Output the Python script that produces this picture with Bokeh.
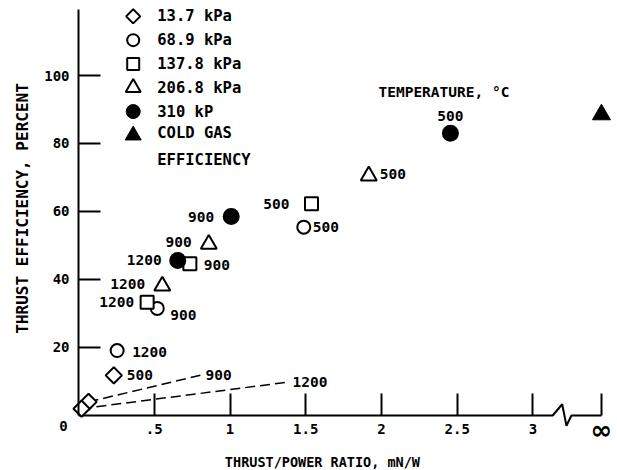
import numpy as np
from bokeh.plotting import figure
from bokeh.models import Range1d, FixedTicker, ColumnDataSource, LinearAxis
from bokeh.core.properties import value
from bokeh.embed import file_html
from bokeh.resources import INLINE

# ---------------- data ----------------
temps_c = ["500", "900", "1200"]            # temperature of each point, deg C
series_names = ["13.7 kPa", "68.9 kPa", "137.8 kPa", "206.8 kPa", "310 kP"]
cold_gas_name = "COLD GAS\nEFFICIENCY"

ratio_13_7 = [0.233, 0.066, 0.020]
eff_13_7 = [11.8, 4.0, 2.0]
ratio_68_9 = [1.487, 0.520, 0.255]
eff_68_9 = [55.4, 31.5, 19.1]
ratio_137_8 = [1.538, 0.735, 0.453]
eff_137_8 = [62.3, 44.6, 33.3]
ratio_206_8 = [1.916, 0.860, 0.553]
eff_206_8 = [70.5, 50.4, 38.1]
ratio_310 = [2.455, 1.008, 0.655]
eff_310 = [83.0, 58.5, 45.6]
cold_gas_eff = [88.5]

x_ticks = [0.5, 1.0, 1.5, 2.0, 2.5, 3.0]
x_tick_labels = [".5", "1", "1.5", "2", "2.5", "3"]
y_ticks = [20, 40, 60, 80, 100]
INF_POS = 3.452          # axis position standing for an infinite ratio
INF_LABEL = "\u221e"

# ---------------- styles / layout ----------------
FONT = "DejaVu Sans Mono"
F = value(FONT)
BOLD = "bold"
marker_style = [
    dict(marker="square", angle=np.pi / 4, size=11.5, fill_color="white"),
    dict(marker="circle", angle=0, size=13, fill_color="white"),
    dict(marker="square", angle=0, size=13, fill_color="white"),
    dict(marker="triangle", angle=0, size=16, fill_color="white"),
    dict(marker="circle", angle=0, size=15, fill_color="black"),
]
cold_style = dict(marker="triangle", angle=0, size=18, fill_color="black")
legend_sizes = [10, 12, 12, 15, 14, 16]

# (dx px, dy px, align) for 500, 900, 1200 labels
label_place = [
    [(13, 0, "left"), None, None],
    [(9, 0, "left"), (13, 7, "left"), (15, 1, "left")],
    [(-22, 0, "right"), (14, 1, "left"), (-13, 0, "right")],
    [(11, -2, "left"), (-17, -2, "right"), (-17, -2, "right")],
    [(0, -17, "center"), (-17, 0, "right"), (-16, 0, "right")],
]
# leader lines for the 13.7 kPa points at 900 and 1200 C (end of dashed line)
leader_idx = [1, 2]
leader_end_x = [0.805, 1.38]
leader_end_y = [11.85, 9.8]

p = figure(width=617, height=470,
           x_range=Range1d(-0.515, 3.558), y_range=Range1d(-16.18, 122.06),
           output_backend="svg", toolbar_location=None, min_border=0,
           outline_line_color=None, background_fill_color="white",
           border_fill_color="white")
p.grid.visible = False

# ---- axes ----
xa = p.xaxis[0]
xa.fixed_location = 0
xa.bounds = (0, INF_POS)
xa.ticker = FixedTicker(ticks=x_ticks)
xa.major_label_overrides = {float(t): l for t, l in zip(x_ticks, x_tick_labels)}
xa.axis_line_color = None
xa.major_tick_in = 22
xa.major_tick_out = 0
xa.major_tick_line_width = 2
xa.minor_tick_line_color = None
xa.major_label_standoff = 9
xa.major_label_text_font = FONT
xa.major_label_text_font_style = BOLD
xa.major_label_text_font_size = "14px"
xa.major_label_text_color = "black"

xinf = LinearAxis(fixed_location=0, bounds=(0, INF_POS),
                  ticker=FixedTicker(ticks=[INF_POS]),
                  major_label_overrides={float(INF_POS): INF_LABEL})
xinf.axis_line_color = None
xinf.major_tick_in = 22
xinf.major_tick_out = 0
xinf.major_tick_line_width = 2
xinf.minor_tick_line_color = None
xinf.major_label_standoff = 0
xinf.major_label_text_font = "DejaVu Sans"
xinf.major_label_text_font_style = BOLD
xinf.major_label_text_font_size = "26px"
xinf.major_label_text_color = "black"
p.add_layout(xinf, "below")

ya = p.yaxis[0]
ya.fixed_location = 0
ya.bounds = (0, 119.5)
ya.ticker = FixedTicker(ticks=y_ticks)
ya.axis_line_width = 2
ya.axis_line_color = "black"
ya.major_tick_in = 22
ya.major_tick_out = 0
ya.major_tick_line_width = 2
ya.minor_tick_line_color = None
ya.major_label_standoff = 9
ya.major_label_text_font = FONT
ya.major_label_text_font_style = BOLD
ya.major_label_text_font_size = "14px"
ya.major_label_text_color = "black"

# broken x axis line (0 .. 3, break, infinity)
brk_x = [0, 3.13, 3.193, 3.221, 3.254, INF_POS]
brk_y = [0, 0, 3.3, -3.0, 0, 0]
p.line(brk_x, brk_y, line_color="black", line_width=2)

# origin label
p.text(x=[0], y=[0], text=["0"], text_font=F, text_font_style=BOLD, text_font_size="14px",
       text_align="center", text_baseline="middle", x_offset=-15, y_offset=11)

# axis titles
p.text(x=[1.61], y=[-13.8], text=["THRUST/POWER RATIO, mN/W"], text_font=F,
       text_font_style=BOLD, text_font_size="13.5px", text_align="center",
       text_baseline="middle")
p.text(x=[-0.372], y=[60.9], text=["THRUST EFFICIENCY, PERCENT"], text_font=F,
       text_font_style=BOLD, text_font_size="16px", text_align="center",
       text_baseline="middle", angle=np.pi / 2)

# ---- leader lines ----
for k, i in enumerate(leader_idx):
    p.line([ratio_13_7[i], leader_end_x[k]], [eff_13_7[i], leader_end_y[k]],
           line_color="black", line_width=1.5, line_dash="10 5")

# ---- data markers ----
all_ratio = [ratio_13_7, ratio_68_9, ratio_137_8, ratio_206_8, ratio_310]
all_eff = [eff_13_7, eff_68_9, eff_137_8, eff_206_8, eff_310]

for xs, ys, st in zip(all_ratio, all_eff, marker_style):
    p.scatter(xs, ys, marker=st["marker"], angle=st["angle"], size=st["size"],
              fill_color=st["fill_color"], line_color="black", line_width=2)
p.scatter([INF_POS], cold_gas_eff, marker=cold_style["marker"], size=cold_style["size"],
          fill_color="black", line_color="black", line_width=1)

# ---- temperature labels ----
lx, ly, lt, ldx, ldy, lal = [], [], [], [], [], []
for xs, ys, places in zip(all_ratio, all_eff, label_place):
    for i, pl in enumerate(places):
        if pl is None:
            continue
        lx.append(xs[i]); ly.append(ys[i]); lt.append(temps_c[i])
        ldx.append(pl[0]); ldy.append(pl[1]); lal.append(pl[2])
for k, i in enumerate(leader_idx):
    lx.append(leader_end_x[k]); ly.append(leader_end_y[k]); lt.append(temps_c[i])
    ldx.append(5); ldy.append(0); lal.append("left")
lab_src = ColumnDataSource(dict(x=lx, y=ly, text=lt, dx=ldx, dy=ldy, align=lal))
p.text(x="x", y="y", text="text", x_offset="dx", y_offset="dy", text_align="align",
       text_baseline="middle", text_font=F, text_font_style=BOLD, text_font_size="14.5px",
       text_color="black", source=lab_src)

p.text(x=[1.98], y=[95.1], text=["TEMPERATURE, \u00b0C"], text_font=F,
       text_font_style=BOLD, text_font_size="14.5px", text_align="left",
       text_baseline="middle")

# ---- legend (drawn) ----
leg_x_marker = 0.361
leg_x_text = 0.52
leg_top = 117.4
leg_step = 7.0
leg_styles = marker_style + [cold_style]
leg_labels = series_names + [cold_gas_name]
for i, (st, lab) in enumerate(zip(leg_styles, leg_labels)):
    yy = leg_top - i * leg_step
    p.scatter([leg_x_marker], [yy], marker=st["marker"], angle=st["angle"],
              size=legend_sizes[i], fill_color=st["fill_color"], line_color="black",
              line_width=2 if st["fill_color"] == "white" else 1)
    if "\n" in lab:
        p.text(x=[leg_x_text], y=[yy], text=[lab], text_font=F, text_font_style=BOLD,
               text_font_size="15.5px", text_align="left", text_baseline="top",
               text_line_height=1.5, y_offset=-11)
    else:
        p.text(x=[leg_x_text], y=[yy], text=[lab], text_font=F, text_font_style=BOLD,
               text_font_size="15.5px", text_align="left", text_baseline="middle")

open("out.html", "w").write(file_html(p, INLINE))
